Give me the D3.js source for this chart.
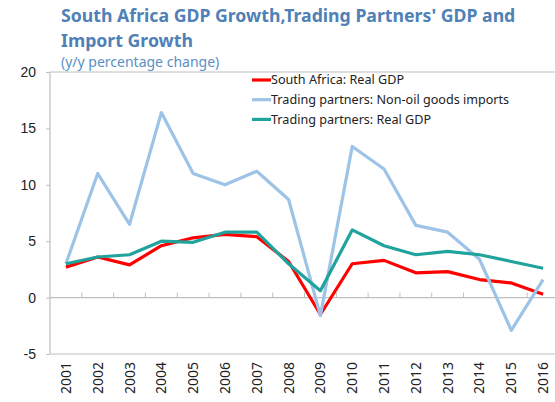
<!DOCTYPE html>
<head>
    <meta charset="utf-8">
    <style>
        body { margin: 0; background: #fff; font-family: "Noto Sans", sans-serif; }
        .title { font-weight: bold; font-size: 17.7px; fill: #4f81b6; }
        .subtitle { font-size: 14px; fill: #5b8fc4; }
        .tick text { font-size: 14px; fill: #222; }
        .legend text { font-size: 12.6px; fill: #222; }
    </style>
    <script src="https://d3js.org/d3.v7.min.js"></script>
</head>
<body>
<script>
    const years = ['2001','2002','2003','2004','2005','2006','2007','2008',
                   '2009','2010','2011','2012','2013','2014','2015','2016'];
    const saGdp     = [2.7, 3.6, 2.9, 4.6, 5.3, 5.6, 5.4, 3.2, -1.5, 3.0, 3.3, 2.2, 2.3, 1.6, 1.3, 0.3];
    const tpImports = [3.0, 11.0, 6.5, 16.4, 11.0, 10.0, 11.2, 8.7, -1.6, 13.4, 11.4, 6.4, 5.8, 3.4, -2.9, 1.6];
    const tpGdp     = [3.0, 3.6, 3.8, 5.0, 4.9, 5.8, 5.8, 3.0, 0.6, 6.0, 4.6, 3.8, 4.1, 3.8, 3.2, 2.6];
    const yTicks = [-5, 0, 5, 10, 15, 20];

    const series = [
        { name: 'South Africa: Real GDP', values: saGdp, color: '#ff0000' },
        { name: 'Trading partners: Non-oil goods imports', values: tpImports, color: '#9dc3e6' },
        { name: 'Trading partners: Real GDP', values: tpGdp, color: '#1fa39c' }
    ];

    const W = 555, H = 402;
    const m = { left: 50, top: 72, right: 559, bottom: 354 };

    const svg = d3.select('body').append('svg')
        .attr('width', W).attr('height', H);

    svg.append('text').attr('class', 'title').attr('x', 61).attr('y', 22)
        .text("South Africa GDP Growth,Trading Partners' GDP and");
    svg.append('text').attr('class', 'title').attr('x', 61).attr('y', 47)
        .text('Import Growth');
    svg.append('text').attr('class', 'subtitle').attr('x', 61).attr('y', 67)
        .text('(y/y percentage change)');

    const x = d3.scaleBand().domain(years).range([m.left, m.right]);
    const y = d3.scaleLinear().domain([-5, 20]).range([m.bottom, m.top]);

    // frame
    svg.append('path')
        .attr('d', `M${W + 5},${m.top}H${m.left}V${m.bottom}H${W + 5}`)
        .attr('fill', 'none').attr('stroke', '#bfbfbf').attr('stroke-width', 1.2);

    // y axis
    const yAxis = svg.append('g').attr('transform', `translate(${m.left},0)`)
        .call(d3.axisLeft(y).tickValues(yTicks).tickSize(4).tickPadding(10).tickFormat(d => String(d)));
    yAxis.select('.domain').remove();
    yAxis.selectAll('.tick line').attr('stroke', '#bfbfbf');

    // zero line with category ticks
    const zero = svg.append('g').attr('transform', `translate(0,${y(0)})`);
    zero.append('line').attr('x1', m.left).attr('x2', W + 5)
        .attr('stroke', '#bfbfbf').attr('stroke-width', 1.2);
    zero.selectAll('line.cat').data(years.slice(1)).join('line')
        .attr('class', 'cat')
        .attr('x1', d => x(d)).attr('x2', d => x(d))
        .attr('y1', 0).attr('y2', -5)
        .attr('stroke', '#bfbfbf');

    // year labels
    svg.append('g').selectAll('text').data(years).join('text')
        .attr('transform', d => `translate(${x(d) + x.bandwidth() / 2 + 5},${m.bottom + 8}) rotate(-90)`)
        .attr('text-anchor', 'end')
        .style('font-size', '14px').style('fill', '#222')
        .text(d => d);

    const line = d3.line()
        .x((d, i) => x(years[i]) + x.bandwidth() / 2)
        .y(d => y(d));

    svg.append('g').selectAll('path').data(series).join('path')
        .attr('d', d => line(d.values))
        .attr('fill', 'none')
        .attr('stroke', d => d.color)
        .attr('stroke-width', 3.2)
        .attr('stroke-linejoin', 'round');

    // legend
    const lg = svg.append('g').attr('class', 'legend')
        .selectAll('g').data(series).join('g')
        .attr('transform', (d, i) => `translate(252,${80 + i * 19.7})`);
    lg.append('line').attr('x1', 0).attr('x2', 19)
        .attr('stroke', d => d.color).attr('stroke-width', 3.2);
    lg.append('text').attr('x', 19).attr('dy', '0.35em').text(d => d.name);
</script>
</body>
